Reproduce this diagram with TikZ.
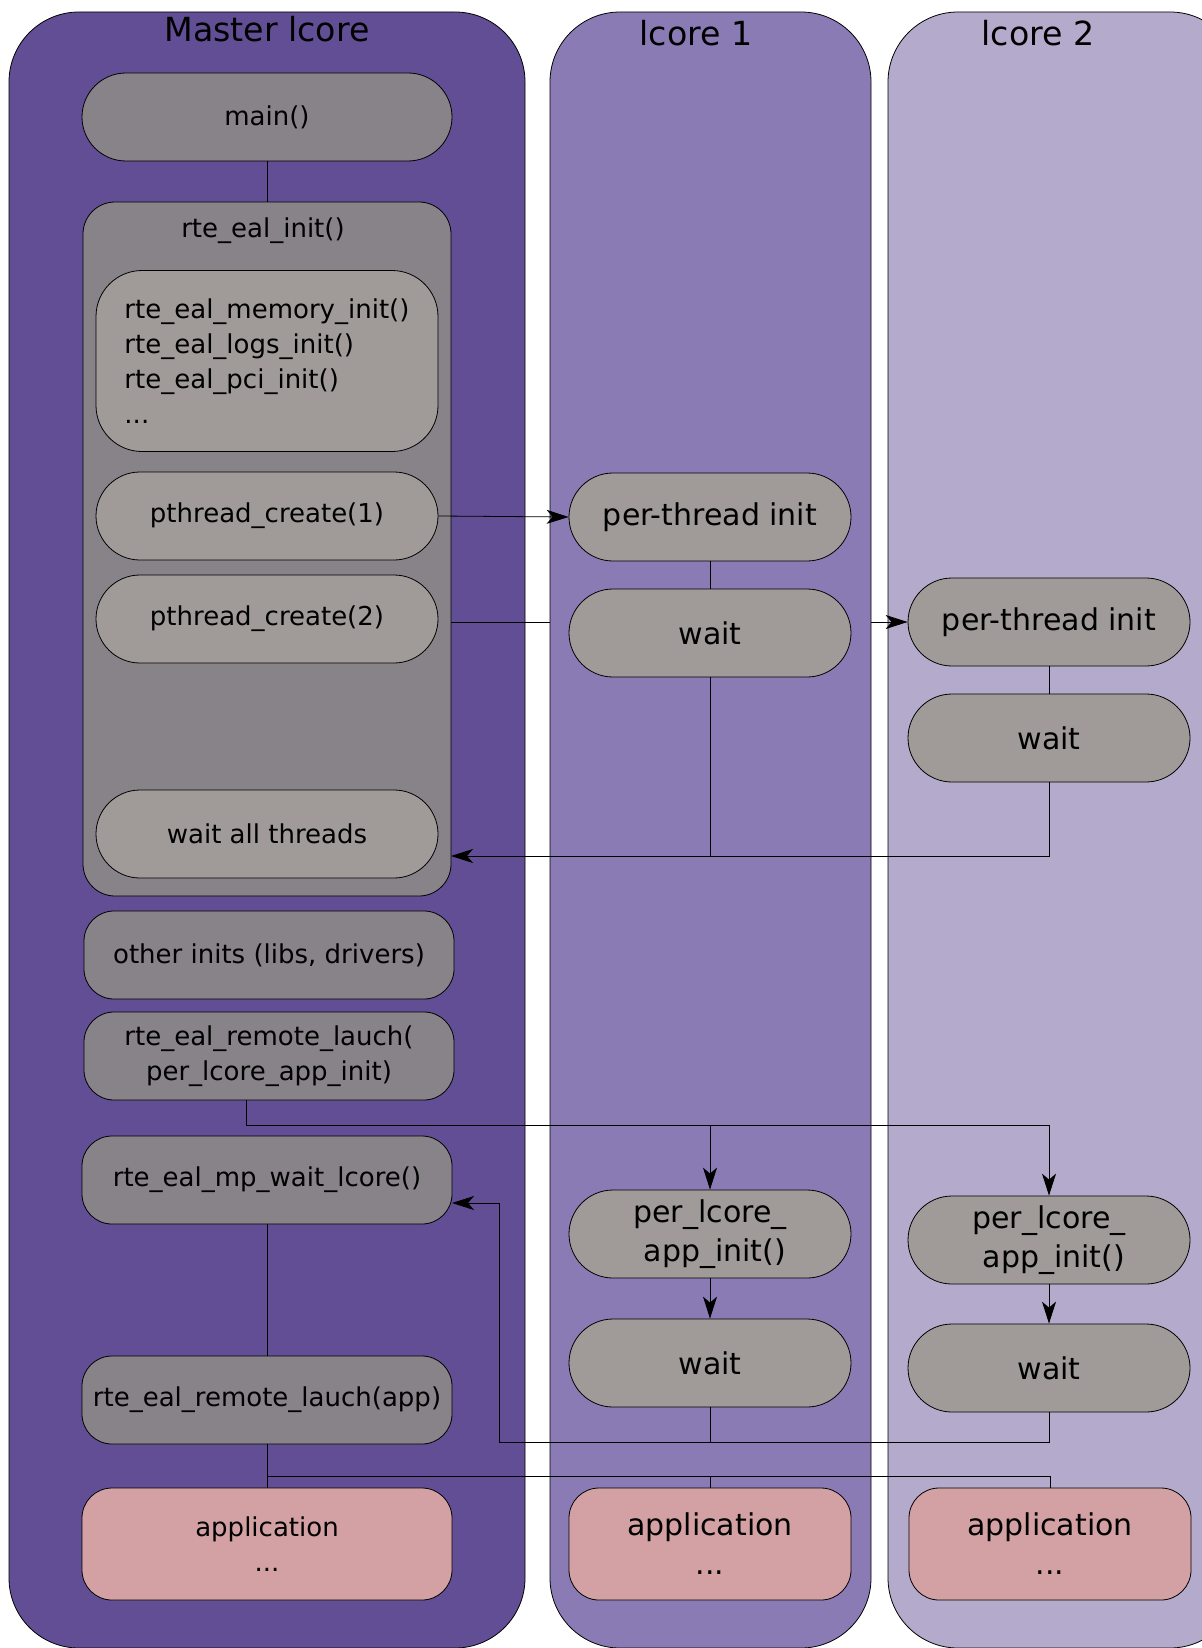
\documentclass[tikz,border=0pt]{standalone}
\usepackage{fontspec}
\setmainfont{DejaVu Sans}
\usetikzlibrary{arrows.meta}
\definecolor{masterbg}{HTML}{624E94}
\definecolor{lcoreonebg}{HTML}{8A7BB5}
\definecolor{lcoretwobg}{HTML}{B4AACB}
\definecolor{fngray}{HTML}{878389}
\definecolor{stepgray}{HTML}{A09B99}
\definecolor{apppink}{HTML}{D3A1A3}
\newcommand\smallfnt{\fontsize{13}{17.5}\selectfont}
\newcommand\bigfnt{\fontsize{15}{19.5}\selectfont}
\newcommand\titlefnt{\fontsize{16.6}{20}\selectfont}
\pgfdeclarelayer{bg}\pgfdeclarelayer{mid}\pgfdeclarelayer{lane}
\pgfsetlayers{bg,mid,lane,main}
\begin{document}
\begin{tikzpicture}[x=0.5pt,y=-0.5pt,line width=0.7pt,
  arr/.style={-{Stealth[length=11pt,width=7pt,inset=3pt]}},
  fnpill/.style={draw,fill=fngray,rounded corners=22pt,minimum width=185pt,minimum height=44pt,inner sep=0pt,font=\smallfnt},
  fnbox/.style={draw,fill=fngray,rounded corners=15pt,minimum width=185pt,minimum height=44pt,inner sep=0pt,font=\smallfnt,align=center},
  steppill/.style={draw,fill=stepgray,rounded corners=22pt,minimum width=171pt,minimum height=44pt,inner sep=0pt,font=\smallfnt},
  corepill/.style={draw,fill=stepgray,rounded corners=22pt,minimum width=141pt,minimum height=44pt,inner sep=0pt,font=\bigfnt,align=center},
  appbox/.style={draw,fill=apppink,rounded corners=15pt,minimum height=56pt,inner sep=0pt,align=center}]
 \useasboundingbox (0,0) rectangle (1201,1648);
 \begin{pgfonlayer}{bg}
 \fill[white] (0,0) rectangle (1201,1648);
 \draw[fill=masterbg,rounded corners=35pt] (9,12) rectangle (525,1648);
 \draw[fill=lcoretwobg,rounded corners=35pt] (888,12) rectangle (1240,1648);
 \end{pgfonlayer}
 \begin{pgfonlayer}{lane}
 \draw[fill=lcoreonebg,rounded corners=35pt] (550,12) rectangle (871,1648);
 \end{pgfonlayer}
 \node[font=\titlefnt] (mastertitle) at (267,29) {Master lcore};
 \node[font=\titlefnt] (onetitle) at (696,33) {lcore 1};
 \node[font=\titlefnt] (twotitle) at (1038,33) {lcore 2};
 % master lcore
 \node[fnpill] (main) at (267,117) {main()};
 \node[draw,fill=fngray,rounded corners=16pt,minimum width=184pt,minimum height=347pt] (init) at (267,549) {};
 \node[font=\smallfnt] (initlbl) at (263,231) {rte\_eal\_init()};
 \node[draw,fill=stepgray,rounded corners=23pt,minimum width=171pt,minimum height=90.5pt,font=\smallfnt,align=left] (meminit) at (267,361)
  {rte\_eal\_memory\_init()\\rte\_eal\_logs\_init()\\rte\_eal\_pci\_init()\\...};
 \node[steppill] (pc1) at (267,516) {pthread\_create(1)};
 \node[steppill] (pc2) at (267,619) {pthread\_create(2)};
 \node[steppill] (waitall) at (267,834) {wait all threads};
 \node[fnbox] (other) at (269,955) {other inits (libs, drivers)};
 \node[fnbox] (rlauch1) at (269,1056) {rte\_eal\_remote\_lauch(\\per\_lcore\_app\_init)};
 \node[fnbox] (mpwait) at (267,1180) {rte\_eal\_mp\_wait\_lcore()};
 \node[fnbox] (rlauch2) at (267,1400) {rte\_eal\_remote\_lauch(app)};
 \node[appbox,minimum width=185pt,font=\smallfnt] (app0) at (267,1544) {application\\...};
 % lcore 1
 \node[corepill] (pti1) at (710,517) {per-thread init};
 \node[corepill] (wait1) at (710,633) {wait};
 \node[corepill] (plai1) at (710,1234) {per\_lcore\_\\\ app\_init()};
 \node[corepill] (wait1b) at (710,1363) {wait};
 \node[appbox,minimum width=141pt,font=\bigfnt] (app1) at (710,1544) {application\\...};
 % lcore 2
 \node[corepill] (pti2) at (1049,622) {per-thread init};
 \node[corepill] (wait2) at (1049,738) {wait};
 \node[corepill] (plai2) at (1049,1240) {per\_lcore\_\\\ app\_init()};
 \node[corepill] (wait2b) at (1049,1368) {wait};
 \node[appbox,minimum width=141pt,font=\bigfnt] (app2) at (1050,1544) {application\\...};
 % connectors
 \coordinate (initin) at (451,856);
 \coordinate (bus1) at (1049,1125);
 \coordinate (bus2) at (499,1442);
 \coordinate (mpin) at (452,1203);
 \coordinate (bus3) at (267,1476);
 \draw (main) -- (init);
 \draw[arr] (pc1.east) -- (pti1.west);
 \begin{pgfonlayer}{mid}
 \draw[arr] (init.east |- pti2.west) -- (pti2.west);
 \end{pgfonlayer}
 \draw (pti1) -- (wait1);
 \draw (pti2) -- (wait2);
 \draw[arr] (wait2.south) |- (initin);
 \draw (wait1.south) -- (wait1.south |- initin);
 \draw[arr] ([xshift=-11.5pt]rlauch1.south) |- (bus1) -- (plai2.north);
 \draw[arr] (plai1.north |- bus1) -- (plai1.north);
 \draw[arr] (plai1) -- (wait1b);
 \draw[arr] (plai2) -- (wait2b);
 \draw (mpwait) -- (rlauch2);
 \draw[arr] (wait2b.south) |- (bus2) |- (mpin);
 \draw (wait1b.south) -- (wait1b.south |- bus2);
 \draw (rlauch2) -- (app0);
 \draw (rlauch2.south |- bus3) -| (app2.north);
 \draw (app1.north |- bus3) -- (app1.north);
\end{tikzpicture}
\end{document}
